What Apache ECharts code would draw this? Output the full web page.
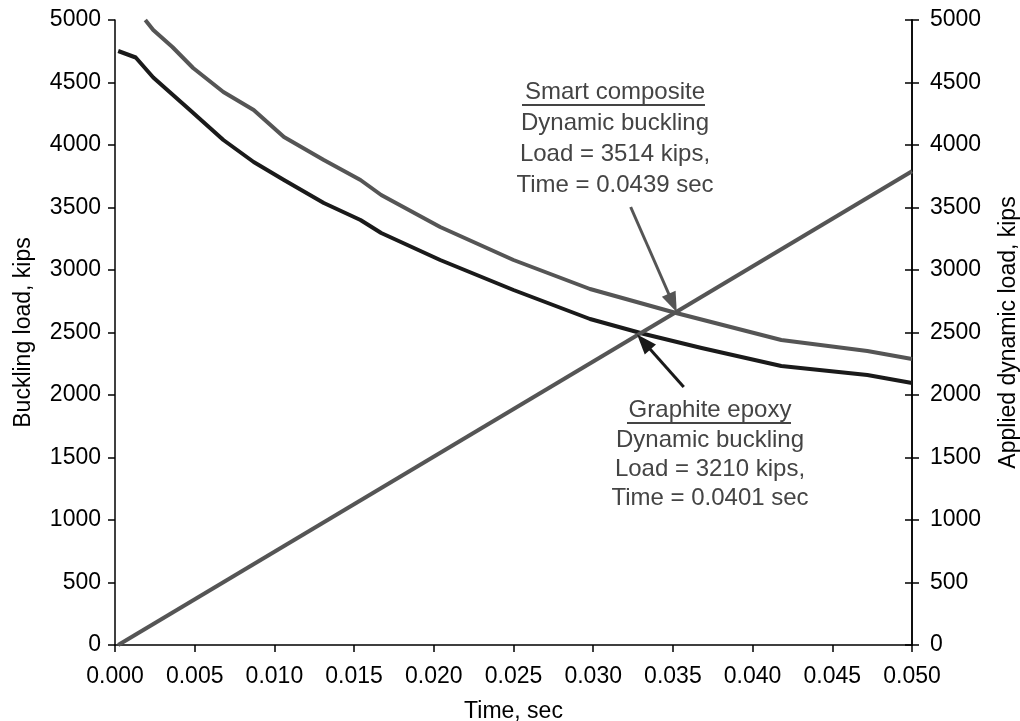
<!DOCTYPE html>
<html><head><meta charset="utf-8">
<script src="https://cdn.jsdelivr.net/npm/echarts@6/dist/echarts.min.js"></script>
<style>html,body{margin:0;padding:0;background:#fff}#chart{width:1020px;height:721px}</style>
</head><body><div id="chart"></div>
<script>
// Smart composite buckling load (kips) vs time (sec)
const smartTime = [0.0019, 0.0024, 0.0036, 0.0049, 0.0068, 0.0087, 0.0106, 0.0131, 0.0154, 0.0167, 0.0204, 0.0250, 0.0298, 0.0352, 0.0418, 0.0472, 0.0500];
const smartLoad = [5000, 4920, 4784, 4616, 4424, 4280, 4064, 3880, 3720, 3600, 3344, 3080, 2848, 2656, 2440, 2352, 2288];
// Graphite epoxy buckling load (kips) vs time (sec)
const epoxyTime = [0.0002, 0.0013, 0.0024, 0.0047, 0.0068, 0.0087, 0.0106, 0.0131, 0.0154, 0.0167, 0.0204, 0.0250, 0.0298, 0.0332, 0.0368, 0.0418, 0.0472, 0.0500];
const epoxyLoad = [4752, 4700, 4540, 4280, 4040, 3864, 3720, 3536, 3400, 3296, 3080, 2840, 2608, 2488, 2376, 2232, 2160, 2096];
// Applied dynamic load (kips)
const appliedTime = [0.0002, 0.0500];
const appliedLoad = [0, 3790];
// Annotation arrows [tailTime, tailLoad, tipTime, tipLoad]
const smartArrow = [0.03235, 3504, 0.03499, 2736];
const epoxyArrow = [0.03568, 2064, 0.03317, 2424];
const smartNote = ['Smart composite', 'Dynamic buckling', 'Load = 3514 kips,', 'Time = 0.0439 sec'];
const epoxyNote = ['Graphite epoxy', 'Dynamic buckling', 'Load = 3210 kips,', 'Time = 0.0401 sec'];

const zip = (a, b) => a.map((v, i) => [v, b[i]]);
const FONT = "'Liberation Sans', Arial, sans-serif";
const FS = 23;
const NOTE_FS = 24;

const chart = echarts.init(document.getElementById('chart'), null, {renderer: 'canvas'});

const axisLineStyle = {show: true, lineStyle: {color: '#000', width: 1.5}};
const yCommon = {
  type: 'value', min: 0, max: 5000, interval: 500,
  splitLine: {show: false},
  axisLine: axisLineStyle,
  nameLocation: 'middle',
  nameTextStyle: {fontFamily: FONT, fontSize: FS, color: '#000'},
  axisLabel: {fontFamily: FONT, fontSize: FS, color: '#000', formatter: v => String(v)}
};

function noteGraphics(lines, cx, ys, ul) {
  const g = lines.map((t, i) => ({
    type: 'text', x: cx, y: ys[i], silent: true,
    style: {text: t, fill: '#444', font: NOTE_FS + 'px ' + FONT, textAlign: 'center', textVerticalAlign: 'middle'}
  }));
  g.push({type: 'line', silent: true, shape: {x1: ul[0], y1: ul[2], x2: ul[1], y2: ul[2]}, style: {stroke: '#444', lineWidth: 2}});
  return g;
}

function arrow(a, color) {
  return [
    {coord: [a[0], a[1]], symbol: 'none', symbolSize: 0, lineStyle: {color: color, width: 3, type: 'solid'}, itemStyle: {color: color}},
    {coord: [a[2], a[3]], symbol: 'triangle', symbolSize: [15, 20], itemStyle: {color: color}}
  ];
}

const option = {
  backgroundColor: '#fff',
  animation: false,
  grid: {left: 115, right: 108, top: 20, bottom: 76, containLabel: false, outerBoundsMode: 'none'},
  xAxis: {
    type: 'value', min: 0, max: 0.05, interval: 0.005,
    name: 'Time, sec', nameLocation: 'middle', nameGap: 55,
    nameTextStyle: {fontFamily: FONT, fontSize: FS, color: '#000'},
    axisLine: axisLineStyle,
    axisTick: {show: true, length: 7, lineStyle: {color: '#000', width: 1.5}},
    axisLabel: {fontFamily: FONT, fontSize: FS, color: '#000', margin: 20, formatter: v => v.toFixed(3)},
    splitLine: {show: false}
  },
  yAxis: [
    Object.assign({}, yCommon, {
      position: 'left', name: 'Buckling load, kips', nameGap: 80,
      axisTick: {show: true, length: 7, lineStyle: {color: '#000', width: 1.5}},
      axisLabel: Object.assign({}, yCommon.axisLabel, {margin: 14})
    }),
    Object.assign({}, yCommon, {
      position: 'right', name: 'Applied dynamic load, kips', nameGap: 85,
      axisTick: {show: true, length: 7, lineStyle: {color: '#000', width: 1.5}},
      axisLabel: Object.assign({}, yCommon.axisLabel, {margin: 18})
    }),
    Object.assign({}, yCommon, {
      position: 'right', name: '',
      axisTick: {show: true, inside: true, length: 7, lineStyle: {color: '#000', width: 1.5}},
      axisLabel: {show: false}
    })
  ],
  series: [
    {
      name: 'Smart composite', type: 'line', yAxisIndex: 0, data: zip(smartTime, smartLoad),
      showSymbol: false, symbol: 'none', smooth: false,
      lineStyle: {color: '#555', width: 4, join: 'round'}
    },
    {
      name: 'Graphite epoxy', type: 'line', yAxisIndex: 0, data: zip(epoxyTime, epoxyLoad),
      showSymbol: false, symbol: 'none', smooth: false,
      lineStyle: {color: '#1a1a1a', width: 4, join: 'round'}
    },
    {
      name: 'Applied dynamic load', type: 'line', yAxisIndex: 1, data: zip(appliedTime, appliedLoad),
      showSymbol: false, symbol: 'none',
      lineStyle: {color: '#555', width: 4},
      markLine: {
        silent: true, animation: false,
        label: {show: false},
        emphasis: {disabled: true},
        data: [arrow(smartArrow, '#555'), arrow(epoxyArrow, '#1a1a1a')]
      }
    }
  ],
  graphic: [].concat(
    noteGraphics(smartNote, 615, [92, 123, 154, 185], [522, 705, 105]),
    noteGraphics(epoxyNote, 710, [410, 440, 469, 498], [627, 791, 423])
  )
};
chart.setOption(option);
</script>
</body></html>
